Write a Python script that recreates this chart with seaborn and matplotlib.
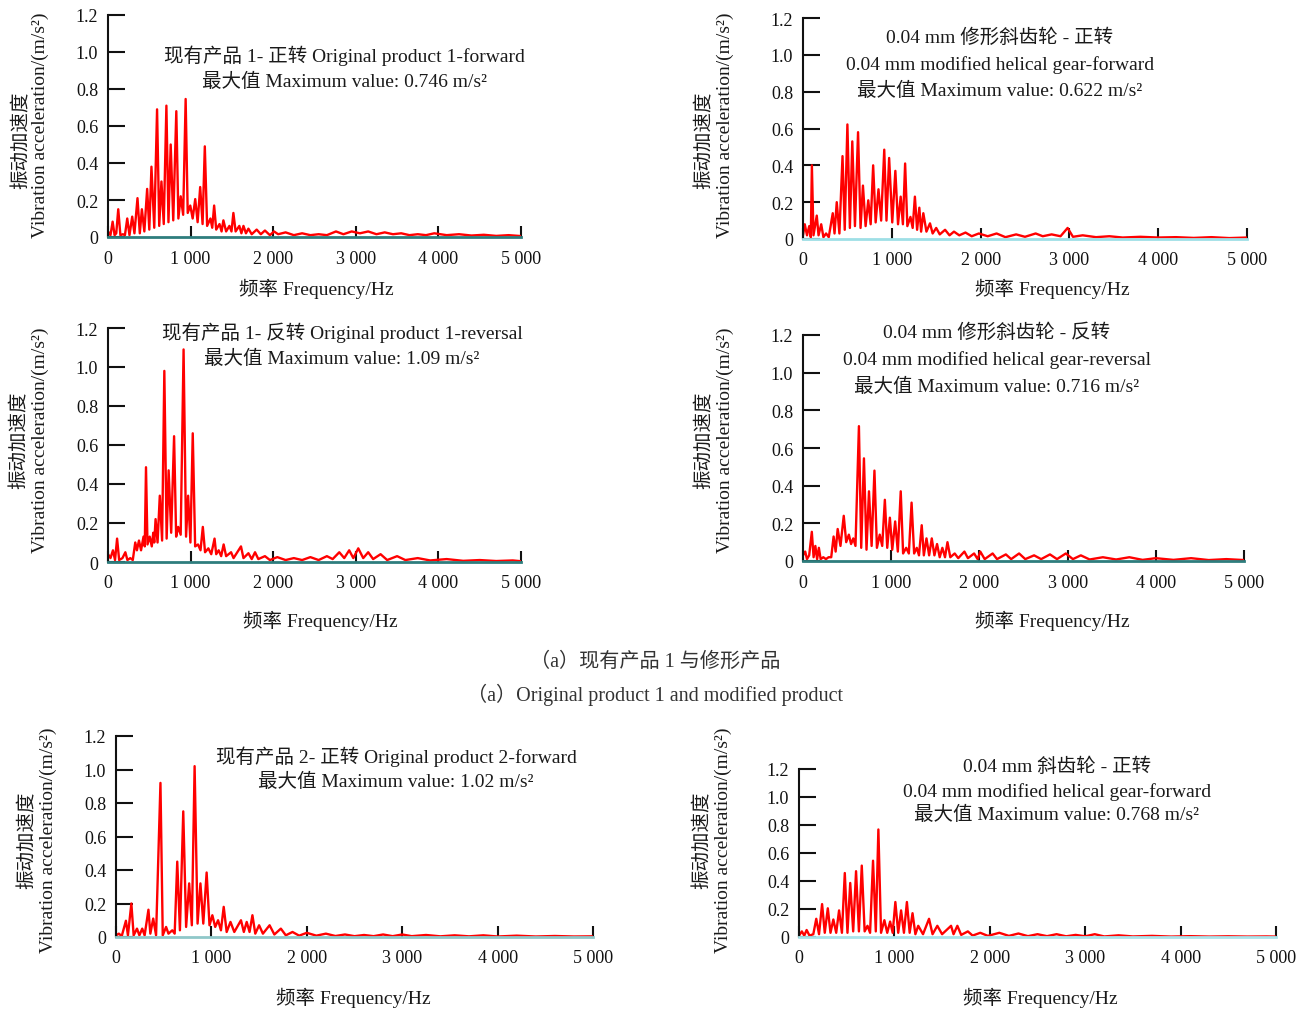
import matplotlib
matplotlib.use("Agg")
import matplotlib.pyplot as plt
import seaborn as sns
import pandas as pd

sns.set_style("ticks")
plt.rcParams['font.family'] = ['Liberation Serif', 'Noto Sans CJK SC']
plt.rcParams['axes.unicode_minus'] = False

# ---------------- data (frequency Hz, acceleration m/s^2) ----------------
p1_points = [(0,0.03),(30,0.01),(56,0.083),(80,0.01),(100,0.02),(124,0.15),(150,0.01),(180,0.015),(205,0.01),
             (233,0.10),(260,0.01),(293,0.11),(320,0.02),(357,0.21),(385,0.02),(410,0.15),(440,0.03),(474,0.26),
             (500,0.04),(526,0.38),(560,0.05),(594,0.69),(620,0.06),(647,0.30),(675,0.07),(707,0.71),(732,0.08),
             (759,0.50),(790,0.09),(827,0.68),(852,0.10),(880,0.22),(910,0.12),(940,0.746),(965,0.13),(996,0.17),
             (1025,0.10),(1056,0.205),(1085,0.08),(1116,0.27),(1145,0.07),(1172,0.49),(1200,0.06),(1240,0.10),
             (1262,0.05),(1285,0.17),(1310,0.04),(1350,0.07),(1375,0.03),(1397,0.09),(1430,0.03),(1470,0.06),
             (1495,0.03),(1518,0.13),(1545,0.03),(1590,0.06),(1615,0.02),(1640,0.06),(1670,0.02),(1700,0.045),
             (1740,0.015),(1800,0.04),(1850,0.015),(1900,0.035),(1960,0.01),(2010,0.03),(2060,0.015),(2150,0.025),
             (2250,0.01),(2350,0.02),(2450,0.01),(2550,0.015),(2650,0.01),(2760,0.03),(2850,0.015),(2950,0.03),
             (3050,0.02),(3150,0.03),(3250,0.015),(3350,0.025),(3450,0.015),(3550,0.02),(3650,0.01),(3750,0.015),
             (3850,0.01),(3950,0.02),(4100,0.01),(4250,0.015),(4400,0.008),(4550,0.012),(4700,0.006),(4850,0.01),
             (5000,0.005)]

p2_points = [(0,0.02),(20,0.08),(45,0.02),(70,0.07),(88,0.01),(100,0.40),(118,0.02),(155,0.127),(175,0.02),
             (205,0.08),(230,0.01),(260,0.03),(290,0.01),(335,0.14),(355,0.03),(380,0.20),(410,0.03),(445,0.45),
             (470,0.05),(500,0.622),(528,0.06),(555,0.53),(585,0.07),(620,0.58),(648,0.06),(675,0.29),(705,0.07),
             (735,0.21),(762,0.08),(790,0.40),(818,0.09),(850,0.27),(880,0.10),(915,0.485),(940,0.10),(970,0.44),
             (1005,0.09),(1040,0.37),(1070,0.08),(1100,0.23),(1125,0.08),(1150,0.41),(1175,0.07),(1210,0.12),
             (1235,0.06),(1260,0.23),(1285,0.05),(1310,0.17),(1330,0.04),(1355,0.14),(1390,0.04),(1430,0.085),
             (1460,0.03),(1500,0.06),(1540,0.025),(1600,0.05),(1650,0.02),(1700,0.04),(1760,0.02),(1830,0.035),
             (1900,0.015),(1980,0.03),(2080,0.015),(2180,0.03),(2280,0.01),(2400,0.025),(2500,0.012),(2620,0.03),
             (2700,0.015),(2800,0.025),(2900,0.015),(2980,0.06),(3040,0.012),(3150,0.02),(3300,0.01),(3450,0.015),
             (3600,0.008),(3800,0.012),(4000,0.008),(4200,0.01),(4400,0.006),(4600,0.01),(4800,0.005),(5000,0.008)]

p3_points = [(0,0.04),(30,0.02),(60,0.06),(85,0.01),(110,0.12),(135,0.01),(175,0.02),(210,0.05),(235,0.01),
             (270,0.02),(300,0.01),(330,0.10),(350,0.06),(375,0.11),(400,0.06),(430,0.13),(445,0.08),(460,0.486),
             (478,0.09),(505,0.13),(530,0.08),(548,0.15),(560,0.10),(576,0.22),(600,0.10),(627,0.34),(655,0.11),
             (682,0.98),(710,0.12),(734,0.47),(765,0.15),(800,0.645),(825,0.13),(850,0.18),(880,0.14),(915,1.09),
             (945,0.13),(970,0.34),(998,0.10),(1026,0.66),(1055,0.08),(1090,0.09),(1120,0.06),(1148,0.18),
             (1175,0.05),(1215,0.07),(1250,0.04),(1290,0.12),(1310,0.04),(1340,0.06),(1370,0.03),(1400,0.09),
             (1430,0.03),(1490,0.05),(1520,0.02),(1610,0.08),(1640,0.02),(1700,0.045),(1740,0.015),(1780,0.05),
             (1820,0.015),(1900,0.03),(1960,0.01),(2050,0.025),(2150,0.01),(2250,0.02),(2350,0.01),(2450,0.025),
             (2550,0.01),(2650,0.03),(2720,0.015),(2800,0.05),(2860,0.02),(2920,0.06),(2970,0.02),(3030,0.07),
             (3090,0.02),(3150,0.05),(3210,0.015),(3300,0.04),(3380,0.01),(3500,0.03),(3600,0.01),(3750,0.02),
             (3900,0.008),(4100,0.015),(4300,0.006),(4500,0.01),(4700,0.005),(4900,0.008),(5000,0.004)]

p4_points = [(0,0.03),(25,0.05),(45,0.01),(70,0.03),(100,0.155),(120,0.02),(140,0.08),(160,0.01),(180,0.07),
             (200,0.01),(230,0.02),(260,0.01),(290,0.02),(320,0.02),(347,0.13),(370,0.05),(393,0.17),(425,0.08),
             (462,0.24),(490,0.10),(520,0.14),(545,0.09),(570,0.12),(595,0.08),(634,0.716),(660,0.07),(691,0.545),
             (720,0.06),(748,0.37),(778,0.08),(810,0.48),(838,0.07),(870,0.14),(898,0.08),(928,0.325),(955,0.07),
             (985,0.23),(1012,0.06),(1045,0.21),(1075,0.05),(1108,0.37),(1135,0.04),(1170,0.07),(1200,0.04),
             (1231,0.31),(1260,0.04),(1290,0.07),(1315,0.03),(1346,0.19),(1370,0.03),(1400,0.12),(1430,0.03),
             (1460,0.12),(1490,0.03),(1520,0.09),(1550,0.02),(1580,0.07),(1610,0.02),(1638,0.10),(1670,0.02),
             (1720,0.04),(1760,0.015),(1830,0.05),(1870,0.015),(1940,0.04),(1980,0.01),(2010,0.05),(2060,0.01),
             (2150,0.04),(2200,0.01),(2300,0.035),(2360,0.01),(2450,0.04),(2520,0.01),(2620,0.03),(2700,0.01),
             (2800,0.035),(2880,0.01),(2980,0.04),(3060,0.01),(3150,0.03),(3250,0.008),(3400,0.02),(3550,0.008),
             (3700,0.02),(3850,0.006),(4000,0.015),(4200,0.006),(4400,0.015),(4600,0.005),(4800,0.01),(5000,0.005)]

p5_points = [(0,0.01),(30,0.02),(60,0.005),(104,0.097),(125,0.01),(161,0.20),(185,0.01),(220,0.05),(245,0.01),
             (275,0.05),(300,0.01),(340,0.163),(360,0.02),(390,0.11),(420,0.01),(466,0.92),(490,0.01),(525,0.06),
             (550,0.02),(590,0.04),(615,0.02),(642,0.45),(670,0.04),(705,0.75),(735,0.06),(767,0.32),(795,0.07),
             (824,1.02),(855,0.08),(885,0.32),(915,0.08),(950,0.385),(980,0.07),(1010,0.13),(1040,0.06),(1070,0.10),
             (1100,0.04),(1129,0.18),(1160,0.03),(1200,0.09),(1240,0.03),(1310,0.10),(1340,0.03),(1370,0.09),
             (1400,0.03),(1430,0.13),(1460,0.02),(1500,0.07),(1540,0.02),(1610,0.07),(1660,0.015),(1728,0.05),
             (1780,0.01),(1850,0.03),(1920,0.008),(2000,0.025),(2100,0.008),(2200,0.02),(2300,0.006),(2400,0.015),
             (2500,0.005),(2600,0.012),(2700,0.005),(2800,0.015),(2900,0.005),(3000,0.015),(3100,0.005),(3250,0.012),
             (3400,0.004),(3550,0.01),(3700,0.004),(3850,0.01),(4000,0.003),(4200,0.008),(4400,0.003),(4600,0.006),
             (4800,0.003),(5000,0.004)]

p6_points = [(0,0.01),(30,0.04),(55,0.01),(80,0.05),(110,0.01),(150,0.02),(181,0.13),(210,0.02),(242,0.235),
             (270,0.03),(302,0.205),(330,0.03),(360,0.125),(390,0.03),(420,0.19),(450,0.03),(480,0.457),(508,0.03),
             (537,0.386),(568,0.04),(598,0.47),(628,0.04),(658,0.51),(688,0.04),(718,0.08),(745,0.03),(776,0.545),
             (805,0.04),(832,0.768),(860,0.03),(895,0.12),(925,0.03),(955,0.11),(982,0.03),(1010,0.25),(1040,0.03),
             (1070,0.19),(1100,0.03),(1131,0.25),(1160,0.03),(1190,0.17),(1220,0.02),(1250,0.08),(1300,0.02),
             (1363,0.13),(1400,0.02),(1450,0.08),(1500,0.02),(1594,0.08),(1620,0.02),(1660,0.08),(1700,0.015),
             (1770,0.04),(1820,0.01),(1900,0.03),(1980,0.008),(2100,0.03),(2200,0.008),(2300,0.025),(2400,0.006),
             (2500,0.02),(2600,0.006),(2700,0.02),(2800,0.005),(2900,0.015),(3000,0.005),(3100,0.02),(3200,0.004),
             (3350,0.012),(3500,0.004),(3700,0.008),(3900,0.003),(4100,0.006),(4300,0.003),(4500,0.005),(4700,0.003),
             (4900,0.004),(5000,0.003)]

xtick_vals = [0, 1000, 2000, 3000, 4000, 5000]
xtick_labels = ["0", "1 000", "2 000", "3 000", "4 000", "5 000"]
ytick_vals = [0, 0.2, 0.4, 0.6, 0.8, 1.0, 1.2]
ytick_labels = ["0", "0.2", "0.4", "0.6", "0.8", "1.0", "1.2"]

titles = [
    ["现有产品 1- 正转 Original product 1-forward", "最大值 Maximum value: 0.746 m/s²"],
    ["0.04 mm 修形斜齿轮 - 正转", "0.04 mm modified helical gear-forward", "最大值 Maximum value: 0.622 m/s²"],
    ["现有产品 1- 反转 Original product 1-reversal", "最大值 Maximum value: 1.09 m/s²"],
    ["0.04 mm 修形斜齿轮 - 反转", "0.04 mm modified helical gear-reversal", "最大值 Maximum value: 0.716 m/s²"],
    ["现有产品 2- 正转 Original product 2-forward", "最大值 Maximum value: 1.02 m/s²"],
    ["0.04 mm 斜齿轮 - 正转", "0.04 mm modified helical gear-forward", "最大值 Maximum value: 0.768 m/s²"],
]
xlabel_text = "频率 Frequency/Hz"
ylabel_cn = "振动加速度"
ylabel_en = "Vibration acceleration/(m/s²)"
caption_cn = "（a）现有产品 1 与修形产品"
caption_en = "（a）Original product 1 and modified product"

# ---------------- layout (pixels) ----------------
W, H = 1309, 1012
fig = plt.figure(figsize=(W / 100, H / 100), dpi=100)

layout = [
    # x at 0, x at 5000, y at 0, y at 1.2, title center x, title ys, xlabel (x,y), ylabel cn (x,y), ylabel en (x,y), baseline color
    dict(x0=108, x1=521, y0=238, y1=16, tx=344, ty=[56, 82], xl=(316, 289), ycn=(22, 140), yen=(40, 125), bc="#2e7d7d"),
    dict(x0=803, x1=1247, y0=240, y1=19, tx=1000, ty=[38, 65, 91], xl=(1052, 289), ycn=(705, 140), yen=(725, 125), bc="#9edfe6"),
    dict(x0=108, x1=521, y0=563, y1=329, tx=342, ty=[333, 359], xl=(320, 621), ycn=(20, 440), yen=(40, 440), bc="#2e7d7d"),
    dict(x0=803, x1=1244, y0=562, y1=336, tx=997, ty=[333, 360, 387], xl=(1052, 621), ycn=(705, 440), yen=(725, 440), bc="#2e7d7d"),
    dict(x0=116, x1=593, y0=938, y1=737, tx=396, ty=[757, 782], xl=(353, 998), ycn=(28, 840), yen=(48, 840), bc="#8fc7c9"),
    dict(x0=799, x1=1276, y0=938, y1=770, tx=1057, ty=[767, 792, 815], xl=(1040, 998), ycn=(703, 840), yen=(723, 840), bc="#a9e3ea"),
]

all_points = [p1_points, p2_points, p3_points, p4_points, p5_points, p6_points]
txt_color = "#1a1a1a"

def fx(x):
    return x / W

def fy(y):
    return 1 - y / H

for pts, lay, ttl in zip(all_points, layout, titles):
    ax = fig.add_axes([fx(lay["x0"]), fy(lay["y0"]), (lay["x1"] - lay["x0"]) / W, (lay["y0"] - lay["y1"]) / H])
    df = pd.DataFrame(pts, columns=["freq", "acc"])
    sns.lineplot(data=df, x="freq", y="acc", ax=ax, color="#ff0000", linewidth=1.7,
                 estimator=None, sort=False)
    ax.set_xlim(0, 5000)
    ax.set_ylim(0, 1.2)
    ax.set_xticks(xtick_vals)
    ax.set_xticklabels(xtick_labels)
    ax.set_yticks(ytick_vals)
    ax.set_yticklabels(ytick_labels)
    ax.set_xlabel("")
    ax.set_ylabel("")
    for s in ["top", "right"]:
        ax.spines[s].set_visible(False)
    ax.spines["left"].set_color("#111111")
    ax.spines["left"].set_linewidth(1.5)
    ax.spines["bottom"].set_color(lay["bc"])
    ax.spines["bottom"].set_linewidth(2.0)
    ax.tick_params(axis="y", direction="in", length=12, width=1.5, pad=7, labelsize=13,
                   colors="#111111")
    ax.tick_params(axis="x", direction="in", length=8, width=1.5, pad=9, labelsize=13,
                   colors="#111111")
    ax.patch.set_alpha(0)

    for line, y in zip(ttl, lay["ty"]):
        fig.text(fx(lay["tx"]), fy(y), line, ha="center", va="center", fontsize=14, color=txt_color)
    fig.text(fx(lay["xl"][0]), fy(lay["xl"][1]), xlabel_text, ha="center", va="center",
             fontsize=14, color=txt_color)
    fig.text(fx(lay["ycn"][0]), fy(lay["ycn"][1]), ylabel_cn, ha="center", va="center",
             rotation=90, fontsize=14, color=txt_color)
    fig.text(fx(lay["yen"][0]), fy(lay["yen"][1]), ylabel_en, ha="center", va="center",
             rotation=90, fontsize=14, color=txt_color)

fig.text(fx(655), fy(662), caption_cn, ha="center", va="center", fontsize=14.5, color="#333333")
fig.text(fx(655), fy(695), caption_en, ha="center", va="center", fontsize=14.5, color="#333333")

fig.savefig("out.png", dpi=100)
